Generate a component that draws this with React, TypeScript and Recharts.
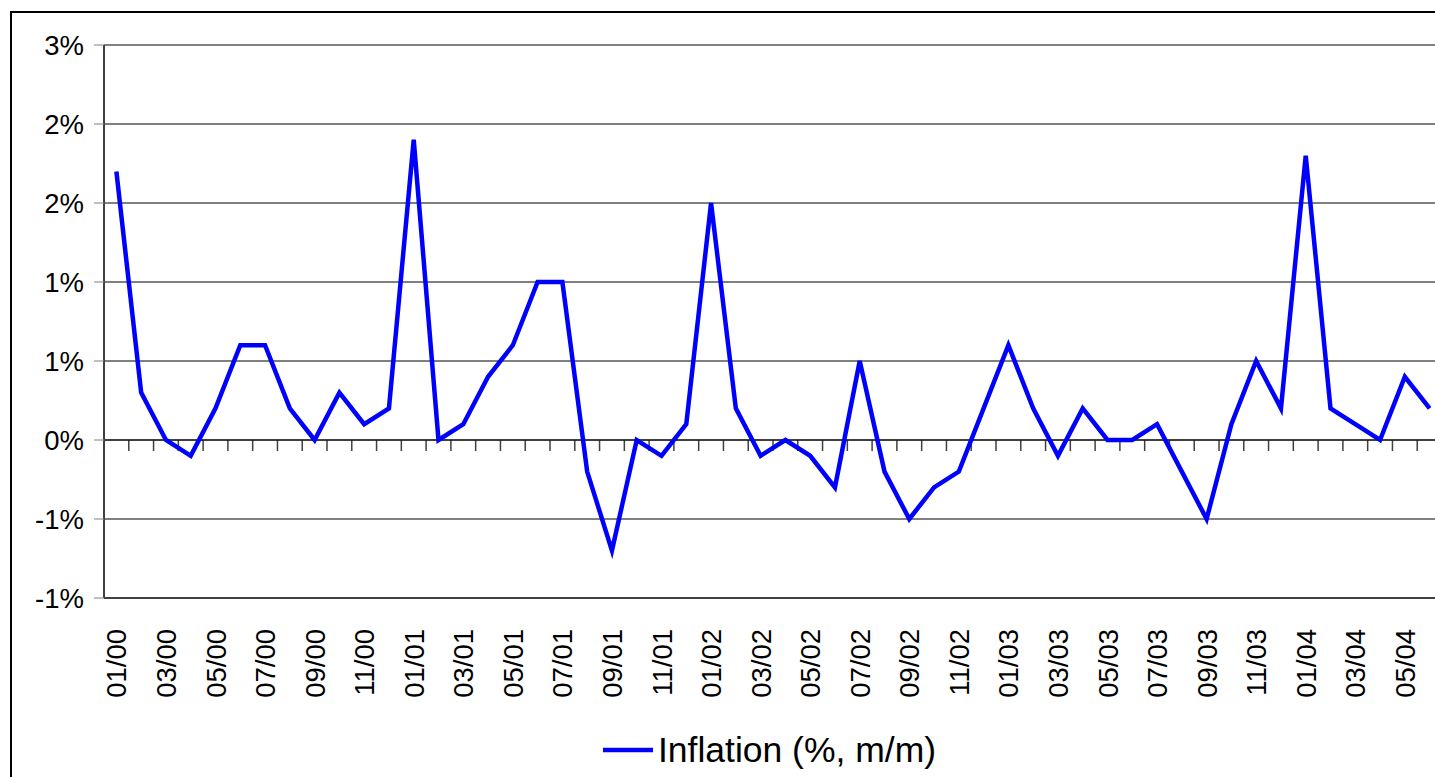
import React from 'react';
import {
  LineChart,
  Line,
  XAxis,
  YAxis,
  CartesianGrid,
  ReferenceLine,
  Legend,
} from 'recharts';

// month labels, 01/00 .. 06/04
const months = [
  '01/00', '02/00', '03/00', '04/00', '05/00', '06/00', '07/00', '08/00', '09/00', '10/00', '11/00', '12/00',
  '01/01', '02/01', '03/01', '04/01', '05/01', '06/01', '07/01', '08/01', '09/01', '10/01', '11/01', '12/01',
  '01/02', '02/02', '03/02', '04/02', '05/02', '06/02', '07/02', '08/02', '09/02', '10/02', '11/02', '12/02',
  '01/03', '02/03', '03/03', '04/03', '05/03', '06/03', '07/03', '08/03', '09/03', '10/03', '11/03', '12/03',
  '01/04', '02/04', '03/04', '04/04', '05/04', '06/04',
];

// monthly inflation, %
const inflation = [
  1.7, 0.3, 0, -0.1, 0.2, 0.6, 0.6, 0.2, 0, 0.3, 0.1, 0.2,
  1.9, 0, 0.1, 0.4, 0.6, 1.0, 1.0, -0.2, -0.7, 0, -0.1, 0.1,
  1.5, 0.2, -0.1, 0, -0.1, -0.3, 0.5, -0.2, -0.5, -0.3, -0.2, 0.2,
  0.6, 0.2, -0.1, 0.2, 0, 0, 0.1, -0.2, -0.5, 0.1, 0.5, 0.2,
  1.8, 0.2, 0.1, 0, 0.4, 0.2,
];

const yTicks = [-1, -0.5, 0, 0.5, 1, 1.5, 2, 2.5];

const FONT = '"Liberation Sans", Arial, sans-serif';

const chartData = months.map((m, i) => ({ idx: i, month: m, value: inflation[i] }));
const labelIdx = months.map((_, i) => i).filter((i) => i % 2 === 0);
const boundaries = months.slice(1).map((_, i) => i + 0.5);

// excel style rounding: 2.5 -> 3%, -0.5 -> -1%
const fmtPct = (v: number) => `${Math.sign(v) * Math.round(Math.abs(v))}%`;

const MonthTick = (props: any) => {
  const { x, y, payload } = props;
  return (
    <g transform={`translate(${x},${y})`}>
      <text
        transform="rotate(-90)"
        x={-29}
        y={0}
        dy={10}
        textAnchor="end"
        fontSize={27.5}
        fill="#000"
        fontFamily={FONT}
      >
        {months[payload.value]}
      </text>
    </g>
  );
};

const LegendBox = () => (
  <div
    style={{
      display: 'flex',
      justifyContent: 'center',
      alignItems: 'center',
      height: 59,
      paddingTop: 5,
      boxSizing: 'border-box',
      fontFamily: FONT,
    }}
  >
    <svg width={50} height={8}>
      <line x1={0} y1={4} x2={50} y2={4} stroke="#0000FF" strokeWidth={4.5} />
    </svg>
    <span style={{ marginLeft: 5, fontSize: 35.5, color: '#000' }}>Inflation (%, m/m)</span>
  </div>
);

export default function App() {
  return (
    <div
      style={{
        position: 'absolute',
        left: 0,
        top: 0,
        width: 1435,
        height: 777,
        overflow: 'hidden',
        background: '#fff',
      }}
    >
      <div
        style={{
          position: 'absolute',
          left: 10,
          top: 11,
          width: 1560,
          height: 820,
          border: '2px solid #000',
        }}
      />
      <div style={{ position: 'absolute', left: 0, top: 0 }}>
        <LineChart
          width={1445}
          height={777}
          data={chartData}
          margin={{ top: 45, right: 3, left: 0, bottom: 0 }}
          style={{ fontFamily: FONT }}
        >
          <CartesianGrid vertical={false} stroke="#000" />
          <XAxis
            dataKey="idx"
            type="number"
            domain={[-0.5, 53.5]}
            ticks={labelIdx}
            interval={0}
            height={120}
            tickLine={false}
            tickSize={0}
            axisLine={{ stroke: '#404040', strokeWidth: 2 }}
            tick={<MonthTick />}
          />
          <YAxis
            domain={[-1, 2.5]}
            ticks={yTicks}
            allowDataOverflow
            width={104}
            tickSize={10}
            tickMargin={10}
            tickFormatter={fmtPct}
            tick={{ fontSize: 27.5, fill: '#000' }}
            tickLine={{ stroke: '#808080' }}
            axisLine={{ stroke: '#404040', strokeWidth: 2 }}
          />
          {boundaries.map((b) => (
            <ReferenceLine
              key={b}
              segment={[
                { x: b, y: 0 },
                { x: b, y: -0.07 },
              ]}
              stroke="#404040"
              strokeWidth={1.5}
              ifOverflow="visible"
            />
          ))}
          <ReferenceLine y={0} stroke="#000" />
          <Legend
            verticalAlign="bottom"
            height={59}
            wrapperStyle={{ left: 0, width: 1539 }}
            content={<LegendBox />}
          />
          <Line
            type="linear"
            dataKey="value"
            name="Inflation (%, m/m)"
            stroke="#0000FF"
            strokeWidth={4.5}
            dot={false}
            isAnimationActive={false}
          />
        </LineChart>
      </div>
    </div>
  );
}
